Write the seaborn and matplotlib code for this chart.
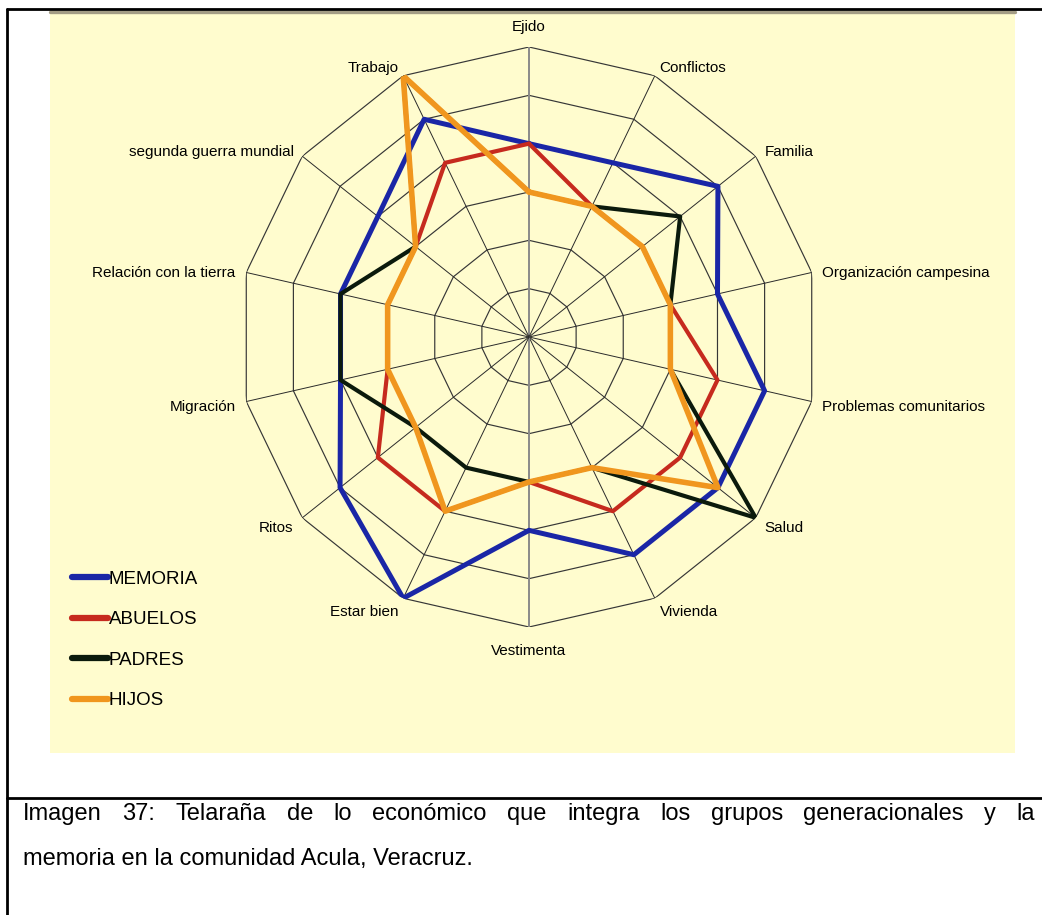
import numpy as np
import pandas as pd
import seaborn as sns
import matplotlib.pyplot as plt
from matplotlib.lines import Line2D
from matplotlib.patches import Rectangle

categorias = ["Ejido", "Conflictos", "Familia", "Organización campesina",
              "Problemas comunitarios", "Salud", "Vivienda", "Vestimenta",
              "Estar bien", "Ritos", "Migración", "Relación con la tierra",
              "segunda guerra mundial", "Trabajo"]
memoria = [4, 4, 5, 4, 5, 5, 5, 4, 6, 5, 4, 4, 4, 5]
abuelos = [4, 3, 3, 3, 4, 4, 4, 3, 4, 4, 3, 3, 3, 4]
padres = [3, 3, 4, 3, 3, 6, 3, 3, 3, 3, 4, 4, 3, 6]
hijos = [3, 3, 3, 3, 3, 5, 3, 3, 4, 3, 3, 3, 3, 6]
series = ["MEMORIA", "ABUELOS", "PADRES", "HIJOS"]
colores = ["#1a26a6", "#c62a1e", "#0b1a0c", "#f0961e"]
grosor = [3.6, 3.0, 3.0, 4.0]
niveles = [1, 2, 3, 4, 5, 6]

caption1 = "Imagen 37: Telaraña de lo económico que integra los grupos generacionales y la"
caption2 = "memoria en la comunidad Acula, Veracruz."

sns.set_theme(style="white")
plt.rcParams['font.family'] = ['Liberation Sans', 'DejaVu Sans']
plt.rcParams['text.color'] = 'black'

W, H = 1042, 915
fig = plt.figure(figsize=(W / 100, H / 100), dpi=100)
fig.patch.set_facecolor("white")

# chart background + frame
fig.add_artist(Rectangle((50 / W, 1 - 753 / H), 965 / W, 741 / H,
                         transform=fig.transFigure, facecolor="#fffcce",
                         edgecolor="none", zorder=0))
fig.add_artist(Line2D([50 / W, 1015 / W], [1 - 12 / H, 1 - 12 / H],
                      transform=fig.transFigure, color="#a39c85", lw=2.4))
for xs, ys in [([7 / W, 7 / W], [1 - 9 / H, 0]),
               ([7 / W, 1], [1 - 9 / H, 1 - 9 / H]),
               ([7 / W, 1], [1 - 798 / H, 1 - 798 / H])]:
    fig.add_artist(Line2D(xs, ys, transform=fig.transFigure, color="black", lw=2.0))

cx, cy, R = 529, 337, 290
ax = fig.add_axes([(cx - R) / W, 1 - (cy + R) / H, 2 * R / W, 2 * R / H], projection="polar")
ax.set_facecolor("none")
ax.set_theta_offset(np.pi / 2)
ax.set_theta_direction(-1)
ax.set_ylim(0, max(niveles))
ax.set_xticks([])
ax.set_yticks([])
ax.grid(False)
ax.spines["polar"].set_visible(False)

n = len(categorias)
theta = np.arange(n) * 2 * np.pi / n
theta_c = np.append(theta, 2 * np.pi)

# polygon web
for lv in niveles:
    ax.plot(theta_c, [lv] * (n + 1), color="#363636", lw=0.85, zorder=1)
for i, t in enumerate(theta):
    if i == 0 or i == 7:
        ax.plot([t, t], [0, max(niveles)], color="#8a8a8a", lw=1.4, zorder=1)
    else:
        ax.plot([t, t], [0, max(niveles)], color="#2a2a2a", lw=0.7, zorder=1)

valores = [memoria, abuelos, padres, hijos]
for nombre, vals, col, lw in zip(series, valores, colores, grosor):
    df = pd.DataFrame({"theta": theta_c, "valor": vals + vals[:1]})
    sns.lineplot(data=df, x="theta", y="valor", ax=ax, sort=False, estimator=None,
                 color=col, linewidth=lw, label=nombre, zorder=3)
for ln in ax.get_lines()[-4:]:
    ln.set_solid_joinstyle("round")
ax.set_xlabel("")
ax.set_ylabel("")

# category labels
for t, lab in zip(theta, categorias):
    a = np.pi / 2 - t
    c, s = np.cos(a), np.sin(a)
    if abs(c) < 0.05:
        ha = "center"
        dx, dy = 0, 20 if s > 0 else -24
    else:
        ha = "left" if c > 0 else "right"
        dx, dy = 11 * c, 12 * s - 3
    ax.annotate(lab, xy=(t, max(niveles)), xytext=(dx, dy), textcoords="offset pixels",
                ha=ha, va="center", fontsize=11, color="black", annotation_clip=False)

leg = ax.legend(loc="center left", bbox_to_anchor=(72 / W, 1 - 640 / H),
                bbox_transform=fig.transFigure, frameon=False, fontsize=13.5,
                handlelength=1.9, handletextpad=0.05, labelspacing=1.25,
                borderpad=0, borderaxespad=0, labelcolor="black")
for h in leg.legend_handles:
    h.set_linewidth(4.5)
    h.set_solid_capstyle("round")

# caption, first line justified
y1, y2 = 1 - 814 / H, 1 - 859 / H
palabras = caption1.split(" ")
fig.canvas.draw()
rend = fig.canvas.get_renderer()
textos = [fig.text(0, y1, p, fontsize=17, va="center", ha="left", color="black")
          for p in palabras]
anchos = [tx.get_window_extent(rend).width for tx in textos]
gap = ((1035 - 23) - sum(anchos)) / (len(palabras) - 1)
x = 23
for tx, w in zip(textos, anchos):
    tx.set_x(x / W)
    x += w + gap
fig.text(23 / W, y2, caption2, fontsize=17, va="center", ha="left", color="black")

fig.savefig("out.png", dpi=100)
